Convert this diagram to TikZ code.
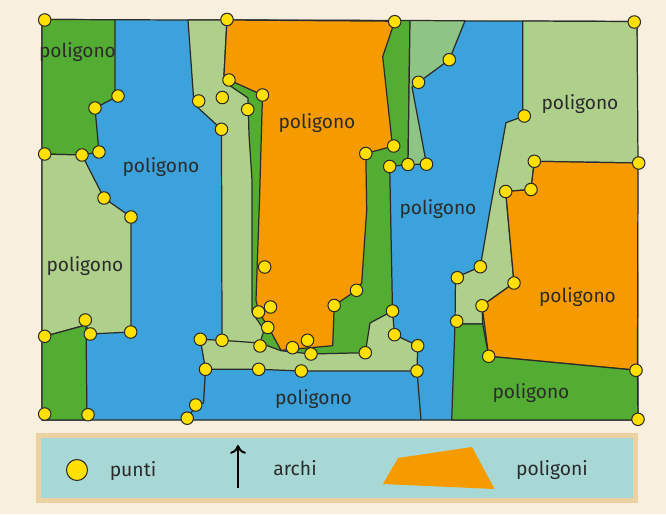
\documentclass[tikz,border=0pt]{standalone}
\usepackage{fontspec}
\setmainfont{Fira Sans}
\usepackage{tikz}
\usetikzlibrary{arrows.meta}

\definecolor{sfondo}{HTML}{F8EFDF}
\definecolor{blu}{HTML}{3BA2DB}
\definecolor{verdescuro}{HTML}{52AD32}
\definecolor{verdechiaro}{HTML}{AED08B}
\definecolor{verdemedio}{HTML}{8FC584}
\definecolor{arancio}{HTML}{F59B00}
\definecolor{giallo}{HTML}{FFE000}
\definecolor{tratto}{HTML}{2B2B2B}
\definecolor{legenda}{HTML}{A7D8D5}
\definecolor{cornice}{HTML}{ECD2A2}

\begin{document}
\begin{tikzpicture}[
    x=0.02cm, y=-0.02cm,
    area/.style={draw=tratto, line width=0.7pt, line join=round},
    arco/.style={draw=tratto, line width=0.7pt, line join=round},
    punto/.style={circle, draw=tratto, line width=0.6pt, fill=giallo, inner sep=0pt, minimum size=0.25cm},
    nome/.style={font=\fontsize{10.9}{13}\selectfont, text=tratto}
]

% Background
\fill[sfondo] (0,0) rectangle (666,514);
\useasboundingbox (0,0) rectangle (666,514);

% Map frame (blue)
\path[area, fill=blu] (42,19.5) -- (637,21.5) -- (638,420) -- (42,420) -- cycle;

% Left column
\path[area, fill=verdescuro] (42,19.5) -- (115,19.7) -- (115,92) -- (118,96) -- (95,108) -- (99,152) -- (82,155) -- (42,154) -- cycle;
\path[area, fill=verdechiaro] (42,154) -- (82,155) -- (104,198) -- (131,217) -- (131,332) -- (90,334) -- (86,325) -- (42,337) -- cycle;
\path[area, fill=verdescuro] (42,337) -- (86,325) -- (87,420) -- (42,420) -- cycle;

% Middle light green U
\path[area, fill=verdechiaro] (188,20) -- (227,20) -- (392.5,311) -- (394.5,334.7) -- (417.7,345.7) -- (417,371) -- (301.3,371) -- (258.7,369.3) -- (205.5,369.3) -- (200.3,339.3) -- (222,340.3) -- (221.5,129.3) -- (194,104) -- cycle;

% Dark green ring
\path[area, fill=verdescuro] (227,20) -- (410,20.5) -- (408,164.5) -- (389.7,166.5) -- (392.5,311) -- (370,323) -- (365.3,352.7) -- (311,354) -- (281,350.7) -- (260,343) -- (264,330) -- (252,312) -- (252,180) -- (249,135) -- (248,98) -- (229,85) -- (229,80) -- (224,75) -- cycle;

% Middle orange
\path[area, fill=arancio] (227,20) -- (394.7,21.2) -- (382.7,56.7) -- (392,142) -- (393.7,146) -- (365.8,153.5) -- (366.7,210) -- (361.7,283) -- (356.5,290.3) -- (334.2,305.5) -- (332.7,345.7) -- (281,350.3) -- (268,326.5) -- (258.5,312) -- (256,300) -- (259.5,200) -- (262.5,95) -- (229,80) -- (224,75) -- cycle;

% Medium green strip
\path[area, fill=verdemedio] (410,20.5) -- (465,20.8) -- (449.3,59.7) -- (418.5,82.3) -- (412,87) -- (426.5,164.2) -- (408,164.5) -- cycle;

% Right column
\path[area, fill=verdechiaro] (522.7,21) -- (637,21.5) -- (638,163) -- (534.3,161.3) -- (531,189.5) -- (505.7,191.5) -- (514,283) -- (482,305.7) -- (482.7,324) -- (455,324) -- (455.5,277.7) -- (480.3,266.7) -- (490,210) -- (506,122.7) -- (524.3,116) -- (522.7,112) -- cycle;
\path[area, fill=arancio] (534.3,161.3) -- (638,163) -- (637.5,370.3) -- (488.7,356.3) -- (482,305.7) -- (514,283) -- (505.7,191.5) -- (531,189.5) -- cycle;
\path[area, fill=verdescuro] (455,324) -- (482.7,324) -- (488.7,356.3) -- (637.5,370.3) -- (638,420) -- (451.7,420) -- cycle;

% Arcs between blue polygons
\draw[arco] (205.5,369.3) -- (203.5,403) -- (195.7,405) -- (187.2,420);
\draw[arco] (417,371) -- (421,420);
\draw[arco] (222,340.3) -- (260,343);

% Polygon names
\node[nome] (n1) at (77.5,52) {poligono};
\node[nome] (n2) at (161,167) {poligono};
\node[nome] (n3) at (85,266) {poligono};
\node[nome] (n4) at (317,123.5) {poligono};
\node[nome] (n5) at (438,209.5) {poligono};
\node[nome] (n6) at (580,104) {poligono};
\node[nome] (n7) at (577.5,297.5) {poligono};
\node[nome] (n8) at (531,393.5) {poligono};
\node[nome] (n9) at (313.5,399) {poligono};

% Points
\foreach \px/\py [count=\i] in {44.7/20, 227/19.5, 394.7/21.7, 634.3/22,
    118/96, 95/108, 99/152, 82/155, 44.7/154, 104/198, 131/217, 85.3/320, 44.7/336.3, 90.3/334, 130.7/332, 44.7/414, 88/414.7,
    229/80, 262.5/95, 198.7/101, 222.3/97.5, 247.7/109.5, 221.5/129.3, 264.7/267, 258.5/312, 270.5/307, 267.8/327.5, 260/346,
    200.3/339.3, 222/340.3, 205.5/369.3, 258.7/369.3, 301.3/371, 292.5/347.7, 307.5/340.3, 311/354, 334.2/305.5, 356.5/290.3,
    392.5/311, 394.5/334.7, 417.7/345.7, 417/371, 365.3/352.7, 195.7/405, 187.2/418.2,
    365.8/153.5, 393.7/146, 389.7/166.5, 408/164.5, 426.5/164.2, 418.5/82.3, 449.3/59.7,
    524.3/116, 638.7/163, 534.3/161.3, 531/189.5, 505.7/191.5, 480.3/266.7, 457.3/277.7, 514/283, 482/305.7, 456.7/321.2,
    488.7/356.3, 636/370.3, 638/419.3}
    \node[punto] (p\i) at (\px,\py) {};

% Legend
\fill[cornice] (36,433) rectangle (638,503);
\fill[legenda] (41,438) rectangle (633,498);
\node[punto, minimum size=0.42cm] (leg-punto) at (77,470) {};
\node[nome, font=\fontsize{11}{13}\selectfont] (leg-punti) at (133,471) {punti};
\coordinate (arco-giu) at (238,488);
\coordinate (arco-su) at (238,445);
\draw[line width=1.1pt, -{To[length=5pt,width=9pt]}] (arco-giu) -- (arco-su);
\node[nome, font=\fontsize{11}{13}\selectfont] (leg-archi) at (295,468) {archi};
\fill[arancio] (383,484) -- (398,458) -- (472,447) -- (494.6,489) -- cycle;
\node[nome, font=\fontsize{11}{13}\selectfont] (leg-poligoni) at (552,470) {poligoni};

\end{tikzpicture}
\end{document}
